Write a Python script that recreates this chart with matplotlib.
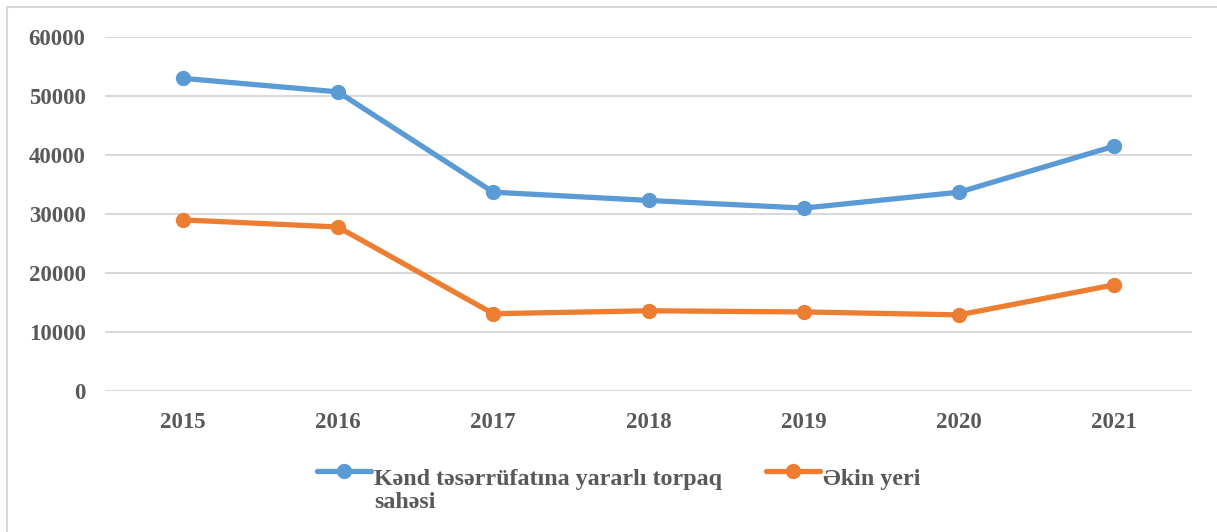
import matplotlib
matplotlib.use("Agg")
import matplotlib.pyplot as plt
from matplotlib.lines import Line2D
from matplotlib.patches import Rectangle

years = ["2015", "2016", "2017", "2018", "2019", "2020", "2021"]
agri_land = [53000, 50700, 33700, 32300, 31000, 33700, 41500]
arable_land = [29000, 27800, 13100, 13600, 13400, 12900, 18000]
series_names = ["Kənd təsərrüfatına yararlı torpaq\nsahəsi", "Əkin yeri"]
yticks = [0, 10000, 20000, 30000, 40000, 50000, 60000]

BLUE = "#5B9BD5"
ORANGE = "#ED7D31"
TXT = "#595959"
GRID = "#D9D9D9"

plt.rcParams['font.family'] = ['Liberation Serif', 'DejaVu Serif']

W, H = 1217, 532
fig = plt.figure(figsize=(W / 100, H / 100), dpi=100)
fig.patch.set_facecolor("white")
fig.add_artist(Rectangle((7 / W, -0.1), 1.2, 1 - 7 / H + 0.1, transform=fig.transFigure,
                         fill=False, edgecolor="#D9D9D9", linewidth=1.5))

ax = fig.add_axes([105 / W, 1 - 391 / H, (1192 - 105) / W, (391 - 37) / H])
x = list(range(len(years)))
ax.plot(x, agri_land, color=BLUE, lw=3.8, marker="o", ms=10, solid_capstyle="round", zorder=3)
ax.plot(x, arable_land, color=ORANGE, lw=3.8, marker="o", ms=10, solid_capstyle="round", zorder=3)

ax.set_xlim(-0.5, len(years) - 0.5)
ax.set_ylim(0, 60000)
ax.set_yticks(yticks)
ax.set_yticklabels([str(v) for v in yticks])
ax.set_xticks(x)
ax.set_xticklabels(years)
for s in ax.spines.values():
    s.set_visible(False)
ax.grid(axis="y", color=GRID, lw=1.5)
ax.set_axisbelow(True)
ax.tick_params(axis="both", length=0, labelsize=16.5, labelcolor=TXT)
ax.tick_params(axis="y", pad=14)
ax.tick_params(axis="x", pad=15)
for lab in ax.get_xticklabels() + ax.get_yticklabels():
    lab.set_fontweight("bold")

# manual legend
def legend_item(x0, x1, y, color, label):
    yf = 1 - y / H
    fig.add_artist(Line2D([x0 / W, x1 / W], [yf, yf], transform=fig.transFigure,
                          color=color, lw=3.8, solid_capstyle="round"))
    fig.add_artist(Line2D([(x0 + x1) / 2 / W], [yf], transform=fig.transFigure,
                          color=color, marker="o", ms=10, lw=0))
    fig.text((x1 + 3) / W, yf + 2 / H, label, ha="left", va="top", fontsize=17.3,
             fontweight="bold", color=TXT, linespacing=1.12)

legend_item(317, 371, 471, BLUE, series_names[0])
legend_item(766, 820, 471, ORANGE, series_names[1])

fig.savefig("out.png", dpi=100)
